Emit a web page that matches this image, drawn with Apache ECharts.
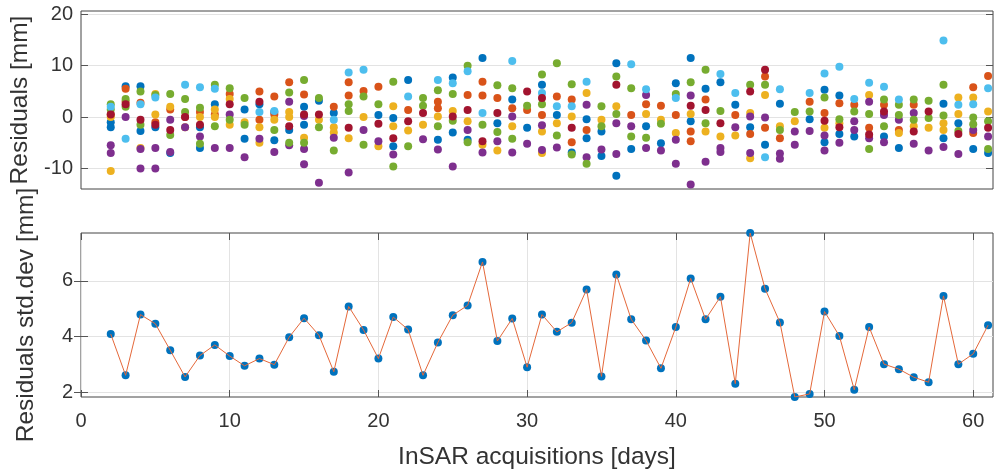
<!DOCTYPE html>
<html>
<head>
<meta charset="utf-8">
<script src="https://cdn.jsdelivr.net/npm/echarts@6/dist/echarts.min.js"></script>
<style>
  html, body { margin: 0; padding: 0; background: #fff; }
  #chart { width: 999px; height: 472px; }
</style>
</head>
<body>
<div id="chart"></div>
<script>
// residuals per acquisition, one list per colour: [day, mm]
var resBlue = [[2,-1],[2,-2],[3,6],[4,6],[4,-2.7],[5,-2],[6,-7],[8,-2],[8,-6],[9,2.5],[11,1.5],[11,-4.2],[12,2.5],[13,1],[13,-4.5],[14,-2.5],[15,2],[15,-1.5],[16,3.2],[17,0.8],[20,0.4],[21,-0.2],[21,-5.7],[22,7.2],[24,-4.4],[25,7.7],[25,-3],[26,-4.4],[27,11.5],[28,-1.2],[29,3.4],[30,-2.1],[31,6.3],[32,0.4],[33,-6.9],[34,-0.4],[34,-4.1],[35,-2.8],[35,-7.6],[36,10.5],[36,-11.4],[37,-6.2],[38,-1.8],[39,-5.1],[40,6.6],[41,11.5],[41,-0.8],[42,5.5],[43,6.8],[44,2.4],[45,20.7],[45,-2],[46,-5.4],[47,2.6],[49,-0.4],[50,5.3],[50,-4.9],[51,4.2],[51,-3.3],[52,-3.8],[54,-3.8],[55,-6],[58,2.6],[58,-4.1],[59,-1.2],[60,-6.2],[61,-7]];
var resOrange = [[2,0.5],[3,5.5],[3,3],[4,2.8],[5,-1],[6,1.5],[7,0],[8,1],[9,0.5],[10,4.5],[12,5],[12,-0.5],[13,4],[13,0.5],[14,6.8],[15,4.4],[17,2],[18,6.8],[18,4.2],[19,5.1],[20,5.9],[22,1.4],[24,3],[24,1.7],[26,4.3],[27,6.9],[27,4.2],[28,3.7],[29,1.7],[30,1.4],[31,0.4],[32,4],[33,3.4],[33,-4.9],[34,-2.5],[37,0.4],[38,2.5],[39,2.2],[40,0.4],[41,-2.8],[41,-4.7],[42,3.4],[44,0.4],[45,-3.3],[46,7.9],[46,-2.1],[47,-4.1],[49,3],[50,0.8],[51,2.7],[52,2.4],[53,-2.1],[54,2.4],[55,-2.5],[56,2.4],[60,5.8],[60,-3.1],[61,8]];
var resYellow = [[2,0],[2,-10.5],[4,-6],[5,4.5],[5,0.5],[6,2],[7,-2],[8,0],[9,1.5],[9,0],[10,3.5],[10,-1.5],[11,-1],[12,-2],[12,-5],[13,-0.5],[14,1],[14,0],[15,-4],[16,-0.5],[17,-2],[17,-3],[18,-4.1],[19,0],[20,-5.7],[21,2.1],[21,-1.8],[22,-2.6],[23,-1.5],[24,0.1],[25,1.2],[26,-0.8],[27,-5.4],[28,-6.5],[29,-1.8],[31,-2.8],[31,-7],[32,-1.2],[33,0.1],[34,4.7],[35,-0.5],[36,2.1],[38,0.6],[39,-0.5],[40,-3.1],[41,0.6],[42,-2.8],[43,-3.8],[44,-3.6],[45,0.8],[45,-8],[46,4.3],[47,-1.8],[48,-0.8],[50,-2.1],[51,-1.2],[53,4.3],[55,-3.1],[56,-1.8],[57,-2.1],[58,-1.2],[58,-2.5],[59,3.8],[59,0.6],[60,3.8],[61,1.1]];
var resPurple = [[2,-5.5],[2,-7],[3,0],[4,-6.2],[4,-10],[5,-6],[5,-10],[6,-0.5],[6,-6.8],[7,-2],[8,-3.8],[9,-6],[10,0.5],[10,-6],[11,-7.8],[12,-4.2],[13,-6.8],[14,3],[14,-5.5],[15,0.2],[15,-6.2],[15,-9.2],[16,-12.8],[17,-4],[18,-10.8],[19,-2.5],[20,-4.7],[21,-7.3],[23,-4.3],[24,-6.3],[25,-9.6],[26,-2.5],[27,-6.9],[28,-4.7],[29,0.1],[29,-6.9],[30,-5.2],[31,-1.6],[31,-6.4],[32,-5.9],[34,2.4],[34,-7.8],[35,-6.3],[36,-1.2],[36,-7.2],[37,-1.8],[38,4.3],[38,-6],[39,-6.5],[40,-4.4],[40,-9.1],[41,4.2],[41,-13.1],[42,-8.7],[43,-6],[43,-6.8],[44,-2],[45,0.1],[45,-7],[46,-0.1],[47,-7.1],[47,-8.1],[48,-2.8],[48,-5.4],[49,-2.7],[50,-3.6],[50,-6.5],[51,-5],[52,-0.8],[52,-2.5],[53,3],[53,-4.1],[54,0.4],[54,-4.9],[55,-0.5],[56,0.8],[56,-5.2],[57,-6.5],[58,-5.8],[59,-7.2],[60,-2.5],[61,-3.8]];
var resGreen = [[2,2.5],[2,1.5],[3,3.5],[3,2],[4,5],[4,-1.5],[5,4.3],[6,4.5],[6,-3.5],[7,3.5],[7,1],[8,1.8],[8,-5.2],[9,6.3],[9,-1.8],[10,5.6],[10,-0.5],[11,3.7],[11,-1.5],[13,-2.5],[14,4.8],[14,-5],[15,7.2],[15,-5],[16,3.7],[16,-2],[17,-6.5],[18,2.5],[18,1.2],[19,4],[19,-5.4],[20,2.5],[21,6.9],[21,-9.6],[22,-5.7],[23,3.7],[23,2.2],[24,5.2],[24,-1.8],[25,4.5],[25,-0.7],[26,10],[26,-4.9],[27,-1.5],[28,6.2],[28,-2.9],[29,5.6],[29,-4.2],[30,2.2],[31,8.3],[31,2.5],[32,10.5],[32,-3.6],[33,6.4],[33,-7.3],[34,-9.1],[35,2.1],[35,-1.8],[36,7.9],[36,0.6],[37,5.6],[37,-3.8],[38,-4],[39,-1.3],[40,4.5],[41,6.8],[42,9.2],[42,-1.2],[43,1.2],[45,6.3],[46,6.3],[47,-2.5],[48,1],[49,1.1],[50,3.8],[51,-0.4],[52,1.1],[53,0.6],[53,-6.2],[54,3.4],[54,-1.8],[55,2.4],[55,0.4],[56,3.4],[56,-0.5],[57,3.2],[57,-0.2],[58,6.3],[58,0.3],[59,-2.7],[60,-0.1],[60,-1.4],[61,-0.8],[61,-6.2]];
var resLightBlue = [[2,2],[3,-4.2],[4,2.5],[5,3.8],[7,6.3],[8,5.8],[9,5.5],[12,1],[13,1.2],[17,-0.5],[18,8.7],[19,9.2],[22,4],[24,7.2],[25,6.6],[26,8.9],[27,0.8],[29,10.9],[31,4.7],[32,2.1],[33,2.1],[34,6.9],[37,10.3],[38,5.4],[40,3.7],[43,8.4],[44,4.7],[46,-7.8],[47,5.4],[49,4.7],[50,8.5],[51,9.8],[52,3.5],[53,6.7],[54,5.9],[55,3.4],[58,14.9],[59,2.4],[60,2.5],[61,5.6]];
var resDarkRed = [[2,0.5],[3,2.5],[4,-0.5],[5,-1.5],[6,-2.5],[7,0],[8,-1.5],[10,2.5],[12,3],[14,-1.8],[15,0.5],[16,0.5],[18,-2.1],[20,-1.3],[21,-4.1],[22,-0.8],[23,0.8],[25,0.1],[26,1.4],[27,-4.7],[28,0.8],[30,5],[31,3.7],[33,-2.1],[36,6.3],[41,2.2],[42,1.4],[43,-1.2],[45,5],[46,9.2],[50,-0.7],[51,-2],[53,-3.4],[54,1.1],[56,-2.8],[57,1.1],[59,-3.3],[61,-2.1]];

// std.dev of the residuals per acquisition
var days = [2,3,4,5,6,7,8,9,10,11,12,13,14,15,16,17,18,19,20,21,22,23,24,25,26,27,28,29,30,31,
            32,33,34,35,36,37,38,39,40,41,42,43,44,45,46,47,48,49,50,51,52,53,54,55,56,57,58,59,60,61];
var stdDev = [4.09,2.61,4.79,4.46,3.51,2.55,3.32,3.70,3.30,2.95,3.21,2.99,3.98,4.66,4.05,2.74,5.08,4.24,3.21,4.70,
              4.25,2.61,3.79,4.77,5.12,6.68,3.84,4.65,2.90,4.79,4.17,4.50,5.69,2.57,6.23,4.62,3.86,2.86,4.34,6.09,
              4.62,5.43,2.31,7.72,5.72,4.51,1.83,1.94,4.90,4.02,2.09,4.34,3.01,2.83,2.54,2.36,5.46,3.01,3.38,4.41];

var xTicks = [0, 10, 20, 30, 40, 50, 60];
var resTicks = [-10, 0, 10, 20];
var stdTicks = [2, 4, 6];

var textCol = '#333';
var font = 'Liberation Sans';

function scatterSeries(data, color) {
    return {
        type: 'scatter',
        xAxisIndex: 0,
        yAxisIndex: 0,
        data: data,
        symbolSize: 8,
        itemStyle: { color: color, opacity: 1 },
        silent: true
    };
}

function yAx(grid, min, max, ticks, pos, name) {
    return {
        type: 'value',
        gridIndex: grid,
        position: pos,
        min: min,
        max: max,
        name: name,
        nameLocation: 'middle',
        nameGap: 42,
        nameTextStyle: { color: textCol, fontSize: 24.5, fontFamily: font },
        axisLine: { show: false },
        axisTick: { show: true, inside: true, length: 7, customValues: ticks, lineStyle: { color: '#555' } },
        axisLabel: { show: pos == 'left', customValues: ticks, margin: 8, color: textCol, fontSize: 20, fontFamily: font },
        splitLine: { show: pos == 'left', lineStyle: { color: '#e3e3e3', width: 1 } }
    };
}

var chart = echarts.init(document.getElementById('chart'), null, { renderer: 'canvas' });

var option = {
    backgroundColor: '#fff',
    animation: false,
    grid: [
        { left: 81, right: 6, top: 11, height: 178, show: true, borderColor: '#444', borderWidth: 1 },
        { left: 81, right: 6, top: 233, height: 164, show: true, borderColor: '#444', borderWidth: 1 }
    ],
    xAxis: [
        {
            type: 'value', gridIndex: 0, min: 0, max: 61.33,
            axisLine: { show: false }, axisTick: { show: false }, axisLabel: { show: false },
            splitLine: { show: false }
        },
        {
            type: 'value', gridIndex: 1, min: 0, max: 61.33, position: 'bottom',
            name: 'InSAR acquisitions [days]',
            nameLocation: 'middle',
            nameGap: 48,
            nameTextStyle: { color: textCol, fontSize: 24.5, fontFamily: font },
            axisLine: { show: false },
            axisTick: { show: true, inside: true, length: 7, customValues: xTicks, lineStyle: { color: '#555' } },
            axisLabel: { customValues: xTicks, margin: 14, color: textCol, fontSize: 20, fontFamily: font },
            splitLine: { show: true, lineStyle: { color: '#e3e3e3', width: 1 } }
        },
        {
            type: 'value', gridIndex: 1, min: 0, max: 61.33, position: 'top',
            axisLine: { show: false },
            axisTick: { show: true, inside: true, length: 7, customValues: xTicks, lineStyle: { color: '#555' } },
            axisLabel: { show: false },
            splitLine: { show: false }
        }
    ],
    yAxis: [
        yAx(0, -14, 20.65, resTicks, 'left', 'Residuals [mm]'),
        yAx(0, -14, 20.65, resTicks, 'right', ''),
        yAx(1, 1.83, 7.72, stdTicks, 'left', 'Residuals std.dev [mm]'),
        yAx(1, 1.83, 7.72, stdTicks, 'right', '')
    ],
    series: [
        scatterSeries(resBlue, '#0072BD'),
        scatterSeries(resOrange, '#D95319'),
        scatterSeries(resYellow, '#EDB120'),
        scatterSeries(resPurple, '#7E2F8E'),
        scatterSeries(resGreen, '#77AC30'),
        scatterSeries(resLightBlue, '#4DBEEE'),
        scatterSeries(resDarkRed, '#A2142F'),
        {
            type: 'scatter',
            xAxisIndex: 1,
            yAxisIndex: 2,
            data: days.map(function (d, i) { return [d, stdDev[i]]; }),
            symbolSize: 8,
            itemStyle: { color: '#0072BD', opacity: 1 },
            z: 2
        },
        {
            type: 'line',
            xAxisIndex: 1,
            yAxisIndex: 2,
            data: days.map(function (d, i) { return [d, stdDev[i]]; }),
            showSymbol: false,
            lineStyle: { color: '#E4683A', width: 1 },
            z: 3
        }
    ]
};

chart.setOption(option);
</script>
</body>
</html>
